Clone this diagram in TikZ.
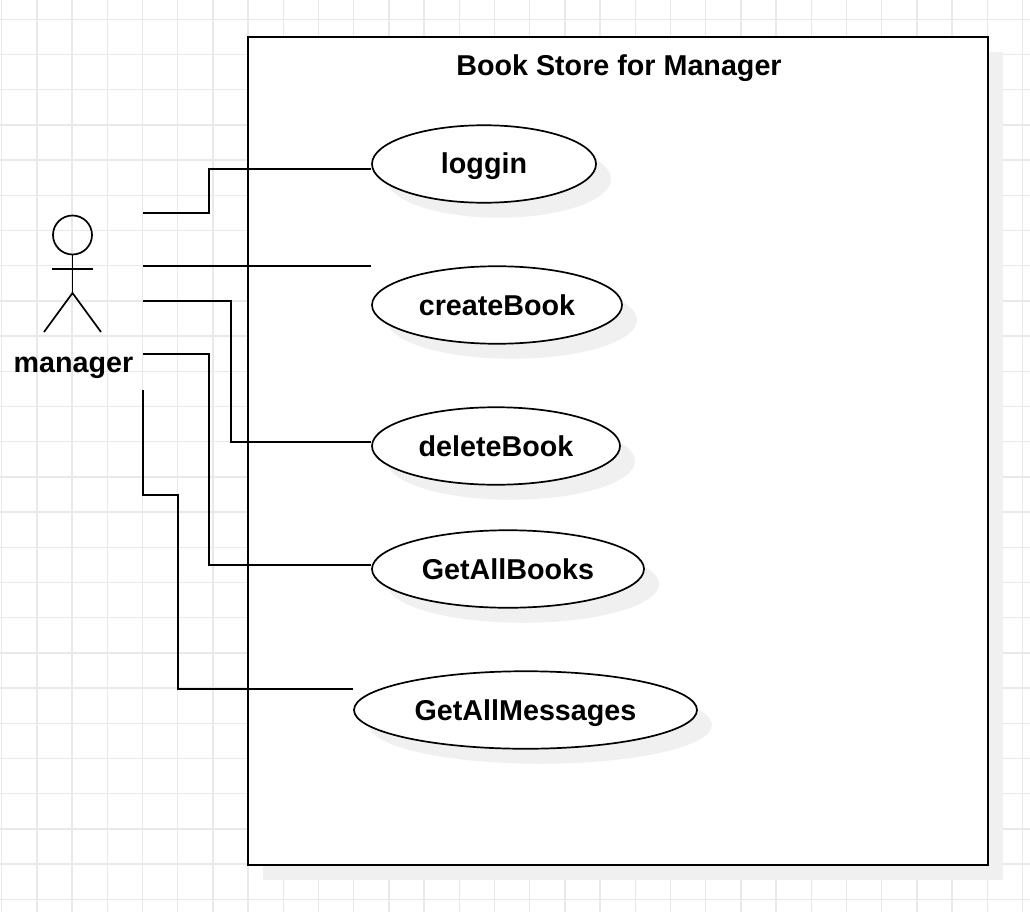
\documentclass[tikz,border=0pt]{standalone}
\usepackage{fontspec}
\setmainfont{Liberation Sans}
\usetikzlibrary{shapes.geometric,shadows}
\definecolor{gridcol}{HTML}{E9E9E9}
\definecolor{shadowcol}{HTML}{F0F0F0}
\tikzset{
  lightshadow/.style={drop shadow={shadow xshift=15pt,shadow yshift=-15pt,fill=shadowcol,opacity=1}},
  boldlabel/.style={font=\bfseries\fontsize{28.7}{32}\selectfont,text height=20pt,text depth=0pt,inner sep=0pt},
  usecase/.style={ellipse,draw=black,line width=1.7pt,fill=white,lightshadow,
    minimum height=77.5pt,boldlabel},
  conn/.style={line width=1.7pt,line join=miter},
  stick/.style={line width=1.7pt}
}
\begin{document}
\begin{tikzpicture}[x=1pt,y=-1pt]
  \useasboundingbox (0,0) rectangle (1030,912);
  % grid
  \foreach \i in {0,...,29}
    \draw[gridcol,line width=1.3pt] ({1.7+35.2*\i},0) -- ({1.7+35.2*\i},912);
  \foreach \j in {0,...,25}
    \draw[gridcol,line width=1.3pt] (0,{19.3+35.2*\j}) -- (1030,{19.3+35.2*\j});
  % system box
  \node[rectangle,draw=black,line width=1.7pt,fill=white,lightshadow,minimum width=739.5pt,minimum height=827.5pt,inner sep=0pt] (store) at (618,451) {};
  \node[boldlabel] (title) at (619,65.5) {Book Store for Manager};
  % use cases
  \node[usecase,minimum width=224pt] (loggin) at (484,164) {loggin};
  \node[usecase,minimum width=250pt] (createBook) at (497,305) {createBook};
  \node[usecase,minimum width=248pt] (deleteBook) at (496,446) {deleteBook};
  \node[usecase,minimum width=272pt] (getAllBooks) at (508,569) {GetAllBooks};
  \node[usecase,minimum width=343pt] (getAllMessages) at (525.5,710) {GetAllMessages};
  % actor
  \node[circle,draw=black,stick,minimum size=39pt,inner sep=0pt] (head) at (72.5,235) {};
  \coordinate (hip) at (72.5,293);
  \coordinate (armL) at (52,269);
  \coordinate (armR) at (93,269);
  \coordinate (legL) at (44,332);
  \coordinate (legR) at (101,332);
  \draw[stick] (head.south) -- (hip);
  \draw[stick] (armL) -- (armR);
  \draw[stick] (legL) -- (hip) -- (legR);
  \node[boldlabel] (manager) at (73.5,362) {manager};
  % connectors
  \coordinate (m1) at (143,213);
  \coordinate (m2) at (143,266);
  \coordinate (m3) at (143,301);
  \coordinate (m4) at (143,354);
  \coordinate (m5) at (143,390);
  \draw[conn] (m1) -- (209,213) -- (209,169) -- ([yshift=-5pt]loggin.west);
  \draw[conn] (m2) -- ([yshift=39pt]createBook.west);
  \draw[conn] (m3) -- (231,301) -- (231,442) -- ([yshift=4pt]deleteBook.west);
  \draw[conn] (m4) -- (209,354) -- (209,565) -- ([yshift=4pt]getAllBooks.west);
  \draw[conn] (m5) -- (143,495) -- (178,495) -- (178,689) -- ([yshift=21pt]getAllMessages.west);
\end{tikzpicture}
\end{document}
